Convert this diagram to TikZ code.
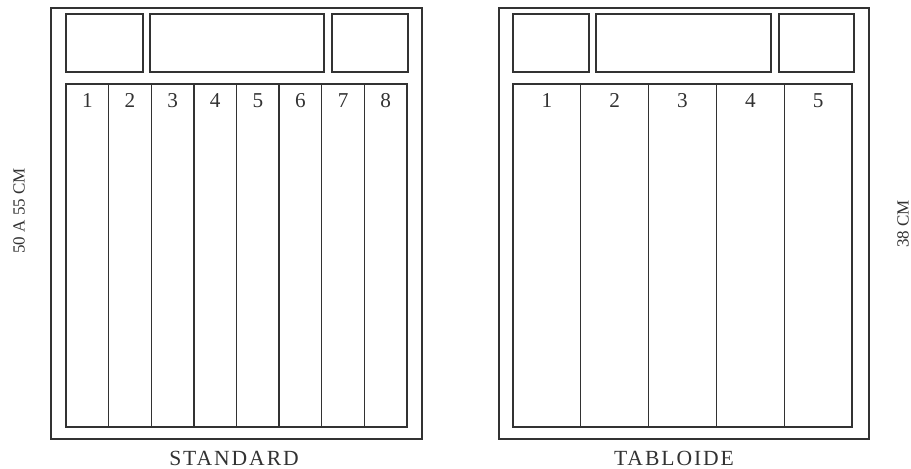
\documentclass[tikz,border=0pt]{standalone}
\usepackage{fontspec}
\setmainfont{Liberation Serif}
\newfontfamily\spacedfont[LetterSpace=9]{Liberation Serif}
\usetikzlibrary{positioning}
\definecolor{frameGray}{RGB}{50,50,50}

\begin{document}
\begin{tikzpicture}[x=0.5pt,y=-0.5pt,line width=0.65pt,color=frameGray,
  every node/.style={font=\fontsize{10.6}{12}\selectfont},
  colnum/.style={anchor=base,inner sep=0pt}]
  \useasboundingbox (0,0) rectangle (911,469);
  % standard page
  \draw (51,8) rectangle (422,439);
  \draw (66,14) rectangle (143,72);
  \draw (150,14) rectangle (324,72);
  \draw (332,14) rectangle (408,72);
  \draw (66,84) rectangle (407,427);
  \foreach \c in {1,...,7}{
    \draw (66+\c*42.625,84)--(66+\c*42.625,427);
  }
  \foreach \c in {1,...,8}{
    \node[colnum] (std\c) at (66+\c*42.625-21.31,108){\c};
  }
  % tabloide page
  \draw (499,8) rectangle (869,439);
  \draw (513,14) rectangle (589,72);
  \draw (596,14) rectangle (771,72);
  \draw (779,14) rectangle (854,72);
  \draw (513,84) rectangle (852,427);
  \foreach \c in {1,...,4}{
    \draw (513+\c*67.8,84)--(513+\c*67.8,427);
  }
  \foreach \c in {1,...,5}{
    \node[colnum] (tab\c) at (513+\c*67.8-33.9,108){\c};
  }
  % page names and sizes
  \node[colnum,font=\spacedfont\fontsize{10.8}{12}\selectfont] (stdName) at (234,466){STANDARD};
  \node[colnum,font=\spacedfont\fontsize{10.8}{12}\selectfont] (tabName) at (674,466){TABLOIDE};
  \node[rotate=90,font=\fontsize{8.5}{10}\selectfont] (stdSize) at (19,211){50 A 55 CM};
  \node[rotate=90,font=\fontsize{8.5}{10}\selectfont] (tabSize) at (903,224){38 CM};
\end{tikzpicture}
\end{document}
